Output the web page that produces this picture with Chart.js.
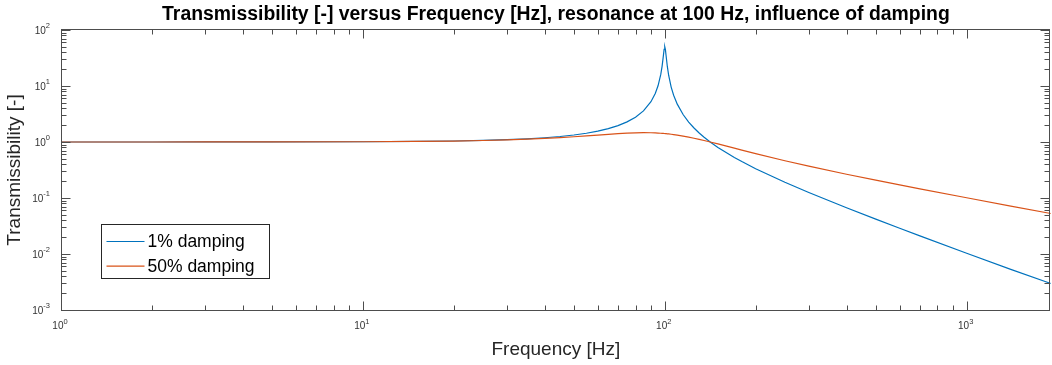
<!DOCTYPE html>
<html>
<head>
<meta charset="utf-8">
<script src="https://cdn.jsdelivr.net/npm/chart.js@4/dist/chart.umd.min.js"></script>
<style>
  html, body { margin: 0; padding: 0; background: #fff; }
  #wrap { width: 1052px; height: 365px; }
</style>
</head>
<body>
<div id="wrap"><canvas id="myChart" width="1052" height="365"></canvas></div>
<script>
// frequency [Hz] and transmissibility
const freq = [1, 2, 3, 5, 10, 15, 20, 25, 30, 35, 40, 45, 50, 55, 60, 65, 70, 75, 80, 85,
  90, 93, 95, 97, 98, 99, 99.5, 100, 100.5, 101, 102, 103, 105, 107, 110, 115, 120, 125,
  130, 135, 141.4, 150, 170, 180, 200, 250, 300, 400, 500, 600, 700, 1000, 1400, 1900];
const damping1 = [1.0001, 1.0004, 1.0009, 1.0025, 1.0101, 1.0230, 1.0417, 1.0667, 1.0989,
  1.1396, 1.1905, 1.2539, 1.3333, 1.4336, 1.5623, 1.7312, 1.9603, 2.2846, 2.7753, 3.5974,
  5.2405, 7.333, 10.069, 16.08, 22.64, 35.63, 44.93, 50.01, 44.53, 35.10, 22.10, 15.56,
  9.559, 6.829, 4.737, 3.093, 2.270, 1.7765, 1.4484, 1.2156, 1.0, 0.8001, 0.5293, 0.4467,
  0.3336, 0.1907, 0.1252, 0.06688, 0.04187, 0.02878, 0.02104, 0.01030, 0.005325, 0.00297];
const damping50 = [1.0001, 1.0004, 1.0009, 1.0025, 1.0100, 1.0225, 1.0400, 1.0624, 1.0896,
  1.1215, 1.1576, 1.1975, 1.2403, 1.2848, 1.3293, 1.3717, 1.4094, 1.4396, 1.4598, 1.4678,
  1.4626, 1.4532, 1.4443, 1.4336, 1.4276, 1.4211, 1.4177, 1.4142, 1.4106, 1.4070, 1.3993,
  1.3913, 1.3744, 1.3564, 1.3275, 1.2760, 1.2221, 1.1678, 1.1144, 1.0628, 1.0, 0.9233,
  0.7759, 0.7166, 0.6202, 0.4631, 0.3701, 0.2656, 0.2080, 0.1713, 0.1458, 0.1010, 0.07179,
  0.05278];
const seriesNames = ['1% damping', '50% damping'];
const xTicks = [1, 10, 100, 1000];
const xTickLabels = ['10^0', '10^1', '10^2', '10^3'];
const yTicks = [0.001, 0.01, 0.1, 1, 10, 100];
const yTickLabels = ['10^-3', '10^-2', '10^-1', '10^0', '10^1', '10^2'];

const FONT = '"Liberation Sans", Arial, Helvetica, sans-serif';
const AXIS_COLOR = '#4d4d4d';
Chart.defaults.font.family = FONT;

// draw "10^n" with a raised exponent
function drawPow(ctx, label, x, y, align) {
  const [base, exp] = label.split('^');
  ctx.font = '10px ' + FONT;
  const wb = ctx.measureText(base).width;
  ctx.font = '7.5px ' + FONT;
  const we = ctx.measureText(exp).width;
  let left = align === 'right' ? x - wb - we : x - (wb + we) / 2;
  ctx.textAlign = 'left';
  ctx.textBaseline = 'middle';
  ctx.font = '10px ' + FONT;
  ctx.fillText(base, left, y);
  ctx.font = '7.5px ' + FONT;
  ctx.fillText(exp, left + wb, y - 5);
}

const matlabAxes = {
  id: 'matlabAxes',
  afterDatasetsDraw(chart) {
    const {ctx, chartArea: a, scales} = chart;
    const xs = scales.x, ys = scales.y;
    const L = Math.floor(a.left) + 0.5, R = Math.floor(a.right) - 0.5;
    const T = Math.floor(a.top) + 0.5, B = Math.floor(a.bottom) + 0.5;
    ctx.save();
    ctx.strokeStyle = AXIS_COLOR;
    ctx.lineWidth = 1;
    ctx.strokeRect(L, T, R - L, B - T);

    ctx.beginPath();
    // x ticks, inward on bottom and top
    for (let e = 0; e <= 3; e++) {
      for (let m = 1; m <= 9; m++) {
        const v = m * Math.pow(10, e);
        if (v < xs.min || v > xs.max) continue;
        const px = Math.round(xs.getPixelForValue(v)) + 0.5;
        const len = m === 1 ? 9 : 5;
        ctx.moveTo(px, B); ctx.lineTo(px, B - len);
        ctx.moveTo(px, T); ctx.lineTo(px, T + len);
      }
    }
    // y ticks, inward on left and right
    for (let e = -3; e <= 2; e++) {
      for (let m = 1; m <= 9; m++) {
        const v = m * Math.pow(10, e);
        if (v < ys.min * 0.999 || v > ys.max * 1.001) continue;
        const py = Math.round(ys.getPixelForValue(v)) + 0.5;
        const len = m === 1 ? 9 : 5;
        ctx.moveTo(L, py); ctx.lineTo(L + len, py);
        ctx.moveTo(R, py); ctx.lineTo(R - len, py);
      }
    }
    ctx.stroke();

    ctx.fillStyle = '#333';
    xTicks.forEach((v, i) => {
      drawPow(ctx, xTickLabels[i], xs.getPixelForValue(v) - 1, a.bottom + 16.5, 'center');
    });
    yTicks.forEach((v, i) => {
      drawPow(ctx, yTickLabels[i], a.left - 11, ys.getPixelForValue(v) + 1, 'right');
    });
    ctx.restore();
  },
  afterDraw(chart) {
    const {ctx, chartArea: a} = chart;
    const bx = Math.floor(a.left + 40) + 0.5, by = Math.floor(a.top + 194.5) + 0.5;
    const bw = 168, bh = 54;
    ctx.save();
    ctx.fillStyle = '#fff';
    ctx.fillRect(bx, by, bw, bh);
    ctx.strokeStyle = '#262626';
    ctx.lineWidth = 1;
    ctx.strokeRect(bx, by, bw, bh);
    chart.data.datasets.forEach((ds, i) => {
      const ry = by + 17 + i * 24.7;
      ctx.strokeStyle = ds.borderColor;
      ctx.lineWidth = 1.2;
      ctx.beginPath();
      ctx.moveTo(bx + 5, ry); ctx.lineTo(bx + 43, ry);
      ctx.stroke();
      ctx.fillStyle = '#000';
      ctx.font = '17.5px ' + FONT;
      ctx.textAlign = 'left';
      ctx.textBaseline = 'middle';
      ctx.fillText(ds.label, bx + 46, ry + 0.5);
    });
    ctx.restore();
  }
};

const myChartRef = document.getElementById('myChart').getContext('2d');
new Chart(myChartRef, {
  type: 'scatter',
  data: {
    datasets: [{
      label: seriesNames[0],
      data: freq.map((f, i) => ({x: f, y: damping1[i]})),
      borderColor: '#0072BD',
      order: 1
    }, {
      label: seriesNames[1],
      data: freq.map((f, i) => ({x: f, y: damping50[i]})),
      borderColor: '#D95319',
      order: 0
    }].map(ds => Object.assign(ds, {showLine: true, pointRadius: 0, borderWidth: 1.2, fill: false}))
  },
  options: {
    responsive: false,
    animation: false,
    events: [],
    layout: {padding: {left: 0, right: 1.2, top: 0, bottom: 0}},
    plugins: {
      legend: {display: false},
      tooltip: {enabled: false},
      title: {
        display: true,
        fullSize: false,
        text: 'Transmissibility [-] versus Frequency [Hz], resonance at 100 Hz, influence of damping',
        color: '#000',
        font: {size: 19.4, weight: 'bold'},
        padding: {top: 2.7, bottom: 4}
      }
    },
    scales: {
      x: {
        type: 'logarithmic',
        min: 1,
        max: 1900,
        grid: {display: false},
        border: {display: false},
        ticks: {display: false},
        title: {display: true, text: 'Frequency [Hz]', color: '#262626', font: {size: 19}, padding: {top: 0, bottom: 4}},
        afterFit: s => { s.height = 55; }
      },
      y: {
        type: 'logarithmic',
        min: 0.001,
        max: 100,
        grid: {display: false},
        border: {display: false},
        ticks: {display: false},
        title: {display: true, text: 'Transmissibility [-]', color: '#262626', font: {size: 19}, padding: {top: 3.6, bottom: 0}},
        afterFit: s => { s.width = 61; }
      }
    }
  },
  plugins: [matlabAxes]
});
</script>
</body>
</html>
